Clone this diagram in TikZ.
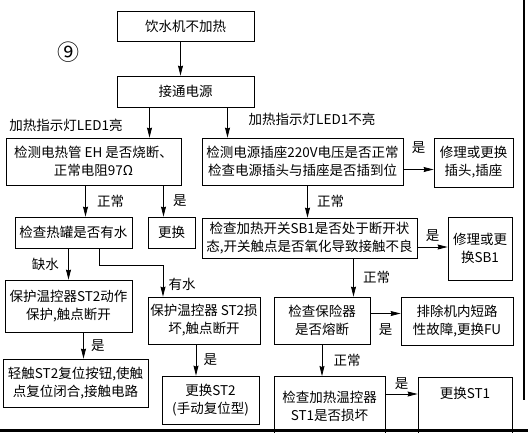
\documentclass[tikz,border=0pt]{standalone}
\usepackage{fontspec}
\newfontfamily\cjk{Noto Sans CJK SC}
\usepackage{tikz}
\usetikzlibrary{positioning,arrows.meta}
\usepackage{xcolor}

\begin{document}
\begin{tikzpicture}[x=1pt,y=-1pt,>={Stealth[length=10pt,width=5pt,inset=1pt]},
  font=\cjk\fontsize{13.5}{18}\selectfont,
  box/.style={draw,line width=0.8pt,inner sep=1pt,align=center},
  lbl/.style={inner sep=1pt}]
\useasboundingbox (0,0) rectangle (528,432);
\clip (0,0) rectangle (528,432);
\node[box,minimum width=137pt,minimum height=30pt] (start) at (185.5,26) {饮水机不加热};
\node[box,minimum width=137pt,minimum height=31pt] (power) at (185.5,91.5) {接通电源};
\node[box,minimum width=175pt,minimum height=47pt] (eh) at (93.5,161.5) {检测电热管 EH 是否烧断、\\正常电阻97Ω};
\node[box,minimum width=201pt,minimum height=47pt] (socket) at (302.5,161.5) {检测电源插座220V电压是否正常\\检查电源插头与插座是否插到位};
\node[box,minimum width=79pt,minimum height=49pt] (plug) at (473.5,162.5) {修理或更换\\插头,插座};
\node[box,minimum width=117pt,minimum height=31pt] (tank) at (73.5,232.5) {检查热罐是否有水};
\node[box,minimum width=47pt,minimum height=31pt] (swap) at (171.5,232.5) {更换};
\node[box,minimum width=215pt,minimum height=40pt] (sb) at (309.5,238) {检查加热开关SB1是否处于断开状\\态,开关触点是否氧化导致接触不良};
\node[box,minimum width=64pt,minimum height=63pt] (sbfix) at (480,248.5) {修理或更\\换SB1};
\node[box,minimum width=127pt,minimum height=52pt] (stact) at (68.5,306) {保护温控器ST2动作\\保护,触点断开};
\node[box,minimum width=112pt,minimum height=47pt] (stbad) at (204,320.5) {保护温控器 ST2损\\坏,触点断开};
\node[box,minimum width=96pt,minimum height=47pt] (fuse) at (322,320.5) {检查保险器\\是否熔断};
\node[box,minimum width=112pt,minimum height=48pt] (short) at (457,321) {排除机内短路\\性故障,更换FU};
\node[box,minimum width=145pt,minimum height=48pt] (reset) at (75.5,383) {轻触ST2复位按钮,使触\\点复位闭合,接触电路};
\node[box,minimum width=97pt,minimum height=48pt] (st2new) at (210.5,400) {更换ST2\\(手动复位型)};
\node[box,minimum width=111pt,minimum height=60pt,anchor=north] (st1) at (329.5,376) {检查加热温控器\\ST1是否损坏};
\node[box,minimum width=94pt,minimum height=63pt,anchor=north,text depth=32pt] (st1new) at (465,377) {更换ST1};
\node[lbl,font=\cjk\fontsize{22}{24}\selectfont] (nine) at (68,52) {⑨};
\node[lbl] (ledon) at (66,125) {加热指示灯LED1亮};
\node[lbl] (ledoff) at (312,119) {加热指示灯LED1不亮};
\draw[->,line width=0.8pt] ([xshift=-5pt]start.south) -- ([xshift=-5pt]power.north);
\draw[->,line width=0.8pt] ([xshift=-36pt]power.south) -- ([xshift=-36pt]power.south |- eh.north);
\draw[->,line width=0.8pt] ([xshift=42pt]power.south) -- ([xshift=42pt]power.south |- socket.north);
\draw[->,line width=0.8pt] ([xshift=-8pt]eh.south) -- ([xshift=-8pt]eh.south |- tank.north) node[midway,right=8pt]{正常};
\draw[->,line width=0.8pt] ([xshift=-8pt]swap.north |- eh.south) -- ([xshift=-8pt]swap.north) node[midway,right=6pt]{是};
\draw[->,line width=0.8pt] (stact.north |- tank.south) -- (stact.north) node[midway,left=6pt]{缺水};
\draw[->,line width=0.8pt] ([xshift=26pt]tank.south) -- ++(0,17) -| ([xshift=-41pt]stbad.north) node[pos=0.8,right=2pt]{有水};
\draw[->,line width=0.8pt] ([xshift=15pt]stact.south) -- ([xshift=15pt]stact.south |- reset.north) node[midway,right=4pt]{是};
\draw[->,line width=0.8pt] ([xshift=-8pt]stbad.south) -- ([xshift=-8pt]stbad.south |- st2new.north) node[midway,right=4pt]{是};
\draw[->,line width=0.8pt] ([yshift=-8pt]socket.east) -- ([yshift=-8pt]socket.east -| plug.west) node[midway,above=12pt]{是};
\draw[->,line width=0.8pt] ([xshift=5pt]socket.south) -- ([xshift=5pt]socket.south |- sb.north) node[midway,right=6pt]{正常};
\draw[->,line width=0.8pt] ([yshift=-9pt]sb.east) -- ([yshift=-9pt]sb.east -| sbfix.west) node[midway,above=2pt]{是};
\draw[->,line width=0.8pt] ([xshift=44pt]sb.south) -- ([xshift=44pt]sb.south |- fuse.north) node[midway,right=6pt]{正常};
\draw[->,line width=0.8pt] ([yshift=7pt]fuse.east) -- ([yshift=7pt]fuse.east -| short.west) node[midway,below=6pt]{是};
\draw[->,line width=0.8pt] (fuse.south) -- (fuse.south |- st1.north) node[midway,right=8pt]{正常};
\draw[->,line width=0.8pt] ([yshift=-18pt]st1.north east) -- ([yshift=-18pt]st1.north east -| st1new.west) node[midway,above=1pt]{是};
\draw[line width=1.2pt] (524,0) -- (524,400);
\fill (0,429) rectangle (528,432);
\end{tikzpicture}
\end{document}
